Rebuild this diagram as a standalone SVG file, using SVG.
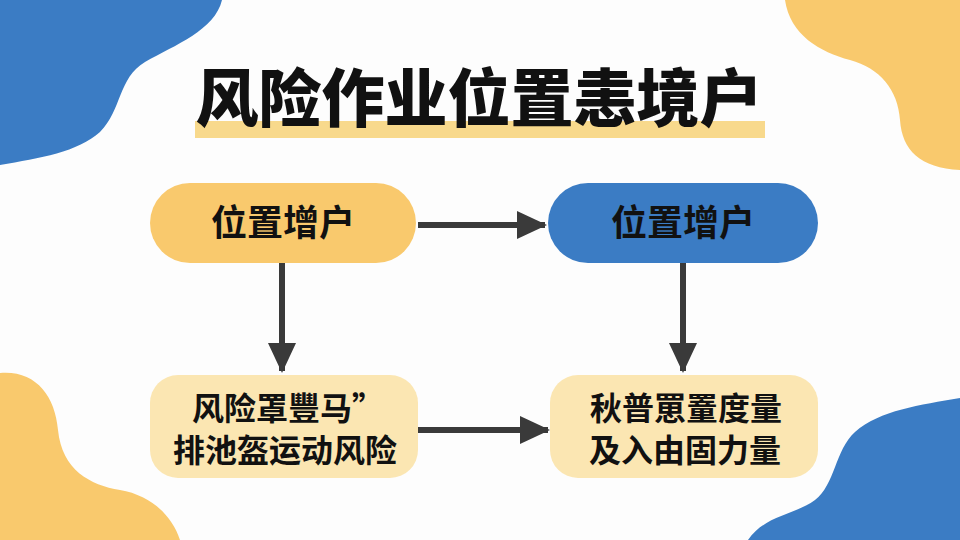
<svg xmlns="http://www.w3.org/2000/svg" width="960" height="540" viewBox="0 0 960 540">
<defs>
<style>
.cjk{font-family:"Noto Sans CJK SC","Noto Sans CJK JP",sans-serif;fill:#111;text-anchor:middle}
.t{font-size:63px;font-weight:900}
.n{font-size:36px;font-weight:700}
.b{font-size:32px;font-weight:700}
.c{stroke:#3a3a3a;stroke-width:6;fill:none}
</style>
<marker id="ah" markerUnits="userSpaceOnUse" markerWidth="34" markerHeight="34" viewBox="0 0 34 34" refX="30" refY="17" orient="auto">
<path d="M2,3 L32,17 L2,31 Z" fill="#3a3a3a"/>
</marker>
</defs>
<rect width="960" height="540" fill="#fdfdfd"/>
<g id="blobs">
<path d="M0,0 L222,0 C215,30 175,45 145,62 C118,78 122,110 100,132 C78,152 40,158 0,165 Z" fill="#3b7cc4"/>
<path d="M785,0 C790,35 820,52 850,60 C880,68 898,90 900,120 C902,150 920,168 960,170 L960,0 Z" fill="#f9c96d"/>
<path d="M0,373 C35,370 55,395 58,430 C62,470 90,485 120,490 C150,495 172,515 180,540 L0,540 Z" fill="#f9c96d"/>
<path d="M960,398 C920,405 880,410 855,432 C835,450 835,485 815,500 C795,515 765,515 748,540 L960,540 Z" fill="#3b7cc4"/>
</g>
<g id="title">
<rect x="195" y="121" width="570" height="17" fill="#f8d98c"/>
<text class="cjk t" x="479" y="121">风险作业位置恚境户</text>
</g>
<g id="connectors">
<line class="c" x1="418" y1="225" x2="545" y2="225" marker-end="url(#ah)"/>
<line class="c" x1="282" y1="263" x2="282" y2="371" marker-end="url(#ah)"/>
<line class="c" x1="683" y1="263" x2="683" y2="371" marker-end="url(#ah)"/>
<line class="c" x1="418" y1="430" x2="548" y2="430" marker-end="url(#ah)"/>
</g>
<g id="node-tl">
<rect x="150" y="183" width="266" height="80" rx="40" fill="#f9c96d"/>
<text class="cjk n" x="283" y="236">位置增户</text>
</g>
<g id="node-tr">
<rect x="548" y="183" width="270" height="80" rx="40" fill="#3b7cc4"/>
<text class="cjk n" x="683" y="236">位置增户</text>
</g>
<g id="node-bl">
<rect x="150" y="375" width="268" height="103" rx="28" fill="#fbe6b2"/>
<text class="cjk b" x="288" y="420">风险罩豐马”</text>
<text class="cjk b" x="285" y="462">排池盔运动风险</text>
</g>
<g id="node-br">
<rect x="550" y="375" width="268" height="103" rx="28" fill="#fbe6b2"/>
<text class="cjk b" x="686" y="420">秋普罳罿度量</text>
<text class="cjk b" x="685" y="462">及入由固力量</text>
</g>
</svg>
